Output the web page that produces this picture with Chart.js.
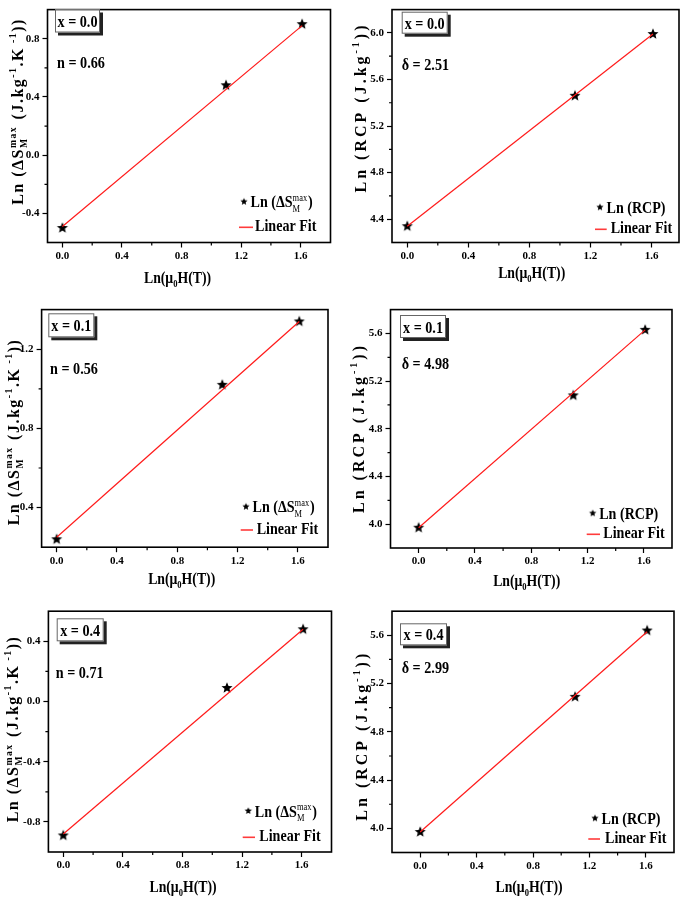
<!DOCTYPE html>
<html>
<head>
<meta charset="utf-8">
<script src="https://cdn.jsdelivr.net/npm/chart.js"></script>
<style>
  body { margin: 0; background: #fff; width: 685px; height: 898px; position: relative; overflow: hidden; }
  canvas { position: absolute; }
</style>
</head>
<body>
<canvas id="c0"></canvas>
<canvas id="c1"></canvas>
<canvas id="c2"></canvas>
<canvas id="c3"></canvas>
<canvas id="c4"></canvas>
<canvas id="c5"></canvas>
<script>
// ---- data ----
// Ln(mu0 H) for H = 1, 3, 5 T
var fieldLn = [0, 1.0986, 1.6094];
var fitX = [0, 1.6094];

var sampleLabels = ['x = 0.0', 'x = 0.1', 'x = 0.4'];
var nValues = ['0.66', '0.56', '0.71'];
var deltaValues = ['2.51', '4.98', '2.99'];

var lnDS_00 = [-0.50, 0.48, 0.90];
var lnDS_01 = [0.24, 1.02, 1.34];
var lnDS_04 = [-0.89, 0.09, 0.48];
var fitDS_00 = [-0.49, 0.89];
var fitDS_01 = [0.25, 1.34];
var fitDS_04 = [-0.88, 0.48];

var lnRCP_00 = [4.34, 5.46, 5.99];
var lnRCP_01 = [3.97, 5.08, 5.63];
var lnRCP_04 = [3.97, 5.09, 5.64];
var fitRCP_00 = [4.34, 5.99];
var fitRCP_01 = [3.97, 5.63];
var fitRCP_04 = [3.97, 5.63];

var xTicks = [0, 0.4, 0.8, 1.2, 1.6];
var xMinor = [0.2, 0.6, 1.0, 1.4];
var yTicksDS_00 = [-0.4, 0, 0.4, 0.8];
var yMinorDS_00 = [-0.2, 0.2, 0.6];
var yTicksDS_01 = [0.4, 0.8, 1.2];
var yMinorDS_01 = [0.6, 1.0];
var yTicksDS_04 = [-0.8, -0.4, 0, 0.4];
var yMinorDS_04 = [-0.6, -0.2, 0.2];
var yTicksRCP_00 = [4.4, 4.8, 5.2, 5.6, 6.0];
var yMinorRCP_00 = [4.6, 5.0, 5.4, 5.8];
var yTicksRCP = [4.0, 4.4, 4.8, 5.2, 5.6];
var yMinorRCP = [4.2, 4.6, 5.0, 5.4];

// rich text pieces: [text] plain, ['sup',t], ['sub',t], ['ss',sub,sup]
var yTitleDS = [['Ln (\u0394S'], ['ss', 'M', 'max'], [' (J.kg'], ['sup', '-1'], ['.K'], ['sup', ' -1'], ['))']];
var yTitleRCP = [['Ln (RCP (J.kg'], ['sup', '-1'], ['))']];
var xTitle = [['Ln(\u03bc'], ['sub', '0'], ['H(T))']];
var legendDS = [['Ln (\u0394S'], ['ss', 'M', 'max'], [')']];
var legendRCP = [['Ln (RCP)']];
var fitLabel = [['Linear Fit']];

var FONT = '"Liberation Serif", "Times New Roman", serif';

// ---- layout (page pixels) ----
var panels = [
  { cell: [0, 0, 342, 300], frame: [47.5, 1.7, 330.5, 242.5], xr: [-0.1, 1.8], yr: [-0.6, 1.0],
    ys: lnDS_00, fit: fitDS_00, yt: yTicksDS_00, ym: yMinorDS_00, label: sampleLabels[0], param: 'n = ' + nValues[0],
    box: [55, 9.5, 45, 23], paramPos: [57, 62], leg: [244, 201.7, 239, 253, 227.3, 255],
    legText: legendDS, yTitle: yTitleDS, yTitlePos: [17, 111.5], xTitlePos: [177.5, 277] },
  { cell: [342, 0, 343, 300], frame: [392, 3, 683, 242.5], xr: [-0.1, 1.78], yr: [4.2, 6.2],
    ys: lnRCP_00, fit: fitRCP_00, yt: yTicksRCP_00, ym: yMinorRCP_00, label: sampleLabels[0], param: '\u03b4 = ' + deltaValues[0],
    box: [401.7, 11.7, 46, 22], paramPos: [401.7, 64], leg: [600, 207.3, 595, 606.7, 229.3, 610.7],
    legText: legendRCP, yTitle: yTitleRCP, yTitlePos: [360, 107.5], xTitlePos: [531.7, 272] },
  { cell: [0, 300, 342, 300], frame: [41.6, 307.8, 328, 547.2], xr: [-0.1, 1.8], yr: [0.2, 1.4],
    ys: lnDS_01, fit: fitDS_01, yt: yTicksDS_01, ym: yMinorDS_01, label: sampleLabels[1], param: 'n = ' + nValues[1],
    box: [48.3, 313.3, 46, 24], paramPos: [50, 368], leg: [246, 506.7, 240.7, 253, 530, 256.7],
    legText: legendDS, yTitle: yTitleDS, yTitlePos: [13, 432], xTitlePos: [181.7, 578.3] },
  { cell: [342, 300, 343, 300], frame: [390.5, 308, 672, 548], xr: [-0.2, 1.8], yr: [3.8, 5.8],
    ys: lnRCP_01, fit: fitRCP_01, yt: yTicksRCP, ym: yMinorRCP, label: sampleLabels[1], param: '\u03b4 = ' + deltaValues[1],
    box: [400, 315, 46, 23], paramPos: [401.7, 363.3], leg: [592.7, 513.3, 586.7, 600, 534.3, 603.3],
    legText: legendRCP, yTitle: yTitleRCP, yTitlePos: [358, 428], xTitlePos: [526.7, 580] },
  { cell: [0, 600, 342, 298], frame: [48.4, 611.2, 331.5, 852], xr: [-0.1, 1.8], yr: [-1.0, 0.6],
    ys: lnDS_04, fit: fitDS_04, yt: yTicksDS_04, ym: yMinorDS_04, label: sampleLabels[2], param: 'n = ' + nValues[2],
    box: [56.7, 618.3, 47, 23], paramPos: [55.7, 671.7], leg: [248.3, 811, 242.7, 255, 837.3, 259.3],
    legText: legendDS, yTitle: yTitleDS, yTitlePos: [12.5, 729], xTitlePos: [183, 886.7] },
  { cell: [342, 600, 343, 298], frame: [392, 611.2, 674, 852.5], xr: [-0.2, 1.8], yr: [3.8, 5.8],
    ys: lnRCP_04, fit: fitRCP_04, yt: yTicksRCP, ym: yMinorRCP, label: sampleLabels[2], param: '\u03b4 = ' + deltaValues[2],
    box: [400, 623.3, 47, 22], paramPos: [401.7, 666.7], leg: [595, 818.3, 588.3, 600, 839, 605],
    legText: legendRCP, yTitle: yTitleRCP, yTitlePos: [361, 735.7], xTitlePos: [529, 886.7] }
];

function starImage(r) {
  var c = document.createElement('canvas');
  var s = Math.ceil(r * 2 + 2);
  c.width = c.height = s;
  var g = c.getContext('2d');
  g.fillStyle = '#000';
  g.beginPath();
  for (var i = 0; i < 10; i++) {
    var a = -Math.PI / 2 + i * Math.PI / 5;
    var rr = (i % 2) ? r * 0.45 : r;
    g.lineTo(s / 2 + rr * Math.cos(a), s / 2 + rr * Math.sin(a));
  }
  g.closePath();
  g.fill();
  return c;
}
var bigStar = starImage(5.8);
var smallStar = starImage(3.8);

// draws (or measures) a run of rich text, baseline at y; sx squeezes horizontally
function rich(ctx, segs, size, x, y, draw, light, sx) {
  sx = sx || 1;
  var cx = 0;
  var sw = light ? '' : 'bold ';
  ctx.save();
  ctx.translate(x, y);
  ctx.scale(sx, 1);
  segs.forEach(function(s) {
    if (s.length === 1) {
      ctx.font = 'bold ' + size + 'px ' + FONT;
      if (draw) ctx.fillText(s[0], cx, 0);
      cx += ctx.measureText(s[0]).width;
    } else if (s[0] === 'sup' || s[0] === 'sub') {
      ctx.font = 'bold ' + (size * 0.62) + 'px ' + FONT;
      var dy = s[0] === 'sup' ? -size * 0.42 : size * 0.25;
      if (draw) ctx.fillText(s[1], cx, dy);
      cx += ctx.measureText(s[1]).width;
    } else {
      ctx.font = sw + (size * 0.6) + 'px ' + FONT;
      if (draw) {
        ctx.fillText(s[1], cx, size * 0.27);
        ctx.fillText(s[2], cx, -size * 0.38);
      }
      cx += Math.max(ctx.measureText(s[1]).width, ctx.measureText(s[2]).width) + 1;
    }
  });
  ctx.restore();
  return cx * sx;
}

function decor(p) {
  var ox = p.cell[0], oy = p.cell[1];
  return {
    id: 'decor',
    afterDraw: function(chart) {
      var ctx = chart.ctx;
      var a = chart.chartArea;
      var xs = chart.scales.x, ysc = chart.scales.y;
      ctx.save();
      ctx.strokeStyle = '#000';
      ctx.fillStyle = '#000';
      // frame
      ctx.lineWidth = 1.6;
      ctx.strokeRect(a.left, a.top, a.right - a.left, a.bottom - a.top);
      // minor ticks
      ctx.lineWidth = 1.2;
      ctx.beginPath();
      xMinor.forEach(function(v) {
        var px = xs.getPixelForValue(v);
        ctx.moveTo(px, a.bottom); ctx.lineTo(px, a.bottom + 3);
      });
      p.ym.forEach(function(v) {
        var py = ysc.getPixelForValue(v);
        ctx.moveTo(a.left, py); ctx.lineTo(a.left - 3, py);
      });
      ctx.stroke();

      ctx.textAlign = 'left';
      ctx.textBaseline = 'alphabetic';

      // sample label box with shadow
      var bx = p.box[0] - ox, by = p.box[1] - oy, bw = p.box[2], bh = p.box[3];
      ctx.fillStyle = '#222';
      ctx.fillRect(bx + 3, by + 3, bw, bh);
      ctx.fillStyle = '#fff';
      ctx.fillRect(bx, by, bw, bh);
      ctx.strokeStyle = '#666';
      ctx.lineWidth = 1;
      ctx.strokeRect(bx + 0.5, by + 0.5, bw - 1, bh - 1);
      ctx.fillStyle = '#000';
      var seg = [[p.label]];
      var lw = rich(ctx, seg, 16.5, 0, 0, false, false, 0.86);
      rich(ctx, seg, 16.5, bx + (bw - lw) / 2, by + bh / 2 + 6, true, false, 0.86);
      rich(ctx, [[p.param]], 16.5, p.paramPos[0] - ox, p.paramPos[1] - oy + 6, true, false, 0.86);

      // legend
      var L = p.leg;
      ctx.drawImage(smallStar, L[0] - ox - smallStar.width / 2, L[1] - oy - smallStar.height / 2);
      rich(ctx, p.legText, 16, L[0] - ox + 6.5, L[1] - oy + 5.5, true, true, 0.88);
      ctx.strokeStyle = '#ff3b3b';
      ctx.lineWidth = 1.6;
      ctx.beginPath();
      ctx.moveTo(L[2] - ox, L[4] - oy); ctx.lineTo(L[3] - ox, L[4] - oy);
      ctx.stroke();
      rich(ctx, fitLabel, 16, L[5] - ox, L[4] - oy + 4, true, false, 0.88);

      // x title
      var w = rich(ctx, xTitle, 16, 0, 0, false, false, 0.86);
      rich(ctx, xTitle, 16, p.xTitlePos[0] - ox - w / 2, p.xTitlePos[1] - oy + 5.5, true, false, 0.86);

      // y title (rotated, letter-spaced)
      ctx.save();
      ctx.translate(p.yTitlePos[0] - ox, p.yTitlePos[1] - oy);
      ctx.rotate(-Math.PI / 2);
      ctx.letterSpacing = p.yTitle === yTitleRCP ? '3px' : '1.5px';
      var wy = rich(ctx, p.yTitle, 16, 0, 0, false);
      rich(ctx, p.yTitle, 16, -wy / 2, 5.5, true);
      ctx.restore();

      ctx.restore();
    }
  };
}

panels.forEach(function(p, i) {
  var cv = document.getElementById('c' + i);
  cv.width = p.cell[2];
  cv.height = p.cell[3];
  cv.style.left = p.cell[0] + 'px';
  cv.style.top = p.cell[1] + 'px';

  var tickFont = { family: FONT, weight: 'bold', size: 11 };
  var yTicks = p.yt;
  new Chart(cv, {
    type: 'scatter',
    data: {
      datasets: [
        {
          type: 'line',
          data: fitX.map(function(x, k) { return { x: x, y: p.fit[k] }; }),
          borderColor: '#ff1a1a',
          borderWidth: 1.2,
          pointRadius: 0,
          fill: false,
          order: 0
        },
        {
          type: 'scatter',
          data: fieldLn.map(function(x, k) { return { x: x, y: p.ys[k] }; }),
          pointStyle: bigStar,
          pointRadius: 5,
          order: 1
        }
      ]
    },
    options: {
      responsive: false,
      animation: false,
      events: [],
      layout: { padding: { left: 0, bottom: 0, top: p.frame[1] - p.cell[1], right: p.cell[0] + p.cell[2] - p.frame[2] } },
      plugins: { legend: { display: false }, tooltip: { enabled: false } },
      scales: {
        x: {
          type: 'linear', min: p.xr[0], max: p.xr[1],
          afterBuildTicks: function(s) { s.ticks = xTicks.map(function(v) { return { value: v }; }); },
          afterFit: function(s) { s.height = p.cell[1] + p.cell[3] - p.frame[3]; },
          border: { display: false },
          grid: { drawOnChartArea: false, tickLength: 5, tickWidth: 1.2, tickColor: '#000' },
          ticks: { font: tickFont, color: '#000', padding: 2, maxRotation: 0, autoSkip: false,
                   callback: function(v) { return v.toFixed(1); } }
        },
        y: {
          type: 'linear', min: p.yr[0], max: p.yr[1],
          afterBuildTicks: function(s) { s.ticks = yTicks.map(function(v) { return { value: v }; }); },
          afterFit: function(s) { s.width = p.frame[0] - p.cell[0]; },
          border: { display: false },
          grid: { drawOnChartArea: false, tickLength: 5, tickWidth: 1.2, tickColor: '#000' },
          ticks: { font: tickFont, color: '#000', padding: 3, autoSkip: false,
                   callback: function(v) { return v.toFixed(1); } }
        }
      }
    },
    plugins: [decor(p)]
  });
});
</script>
</body>
</html>
